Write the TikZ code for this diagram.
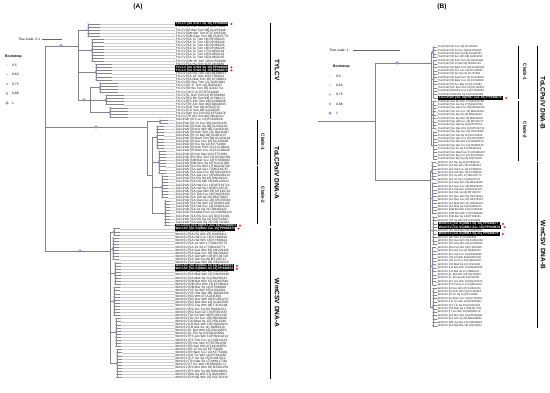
\documentclass[tikz,border=0pt]{standalone}
\usepackage{fontspec}
\setmainfont{Liberation Sans}
\usetikzlibrary{shapes.geometric}
\definecolor{Ink}{HTML}{1A1A1A}
\definecolor{Branch}{HTML}{858585}
\definecolor{Leader}{HTML}{CDCDCD}
\definecolor{BootFill}{HTML}{A3A6D9}
\definecolor{BootEdge}{HTML}{7A7EBF}
\definecolor{Star}{HTML}{E0262B}
\tikzset{
  branch/.style={draw=Branch,line width=0.4pt},
  leader/.style={draw=Leader,line width=0.2pt},
  bootbig/.style={draw=BootEdge,fill=BootFill,line width=0.2pt},
  bootsmall/.style={draw=BootEdge,fill=BootFill!70,line width=0.15pt},
  tiplab/.style={anchor=west,inner sep=0.2pt,text=Ink,font=\fontsize{3.2}{3}\selectfont},
  tiplabB/.style={tiplab,font=\fontsize{2.7}{3}\selectfont},
  tiphl/.style={anchor=west,inner sep=0.45pt,fill=black,text=white,font=\fontsize{3.2}{3}\selectfont\bfseries},
  tiphlB/.style={tiphl,inner xsep=1.2pt,font=\fontsize{3.3}{3}\selectfont\bfseries},
  redmark/.style={star,star points=5,star point ratio=2.2,fill=Star,inner sep=0pt,minimum size=2.8pt},
  groupbar/.style={draw=black,line width=1pt},
  cladebar/.style={draw=black,line width=0.6pt},
  grouplab/.style={rotate=-90,font=\fontsize{6.5}{7}\selectfont\bfseries},
  cladelab/.style={rotate=-90,font=\fontsize{4.5}{5}\selectfont\bfseries},
  legtxt/.style={anchor=west,inner sep=0pt,font=\fontsize{3.3}{4}\selectfont},
  paneltitle/.style={font=\fontsize{6.5}{7}\selectfont\bfseries}
}
% tree helpers, rows at y = \yo + \ys*k
\newcommand\spine[3]{\draw[branch] (#1,{\yo+\ys*#2}) -- (#1,{\yo+\ys*#3});}
\newcommand\hbranch[3]{\draw[branch] (#1,{\yo+\ys*#3}) -- (#2,{\yo+\ys*#3});}
\newcommand\bootdot[2]{\filldraw[bootbig] (#1,{\yo+\ys*#2}) circle (1.5pt);}
\newcommand\tipgroup[5]{% first k, last k, spine x, node x, tip x
  \pgfmathsetmacro\ga{\yo+\ys*#1}
  \pgfmathsetmacro\gb{\yo+\ys*#2}
  \pgfmathsetmacro\gm{(\ga+\gb)/2}
  \draw[branch] (#3,\gm) -- (#4,\gm);
  \draw[branch] (#4,\ga) -- (#4,\gb);
  \foreach \k in {#1,...,#2}{
    \pgfmathsetmacro\gk{\yo+\ys*\k}
    \draw[branch] (#4,\gk) -- (#5,\gk);
    \draw[leader] (#5,\gk) -- (\lx,\gk);
    \filldraw[bootsmall] (#4,\gk) circle (0.6pt);
  }
  \filldraw[bootbig] (#4,\gm) circle (1.1pt);
}
\newcommand\tiplabels[6]{% name, virus, first k, style, highlight style, list
  \foreach \tg/\ac/\hl [count=\k from #3] in {#6}{
    \pgfmathsetmacro\ty{\yo+\ys*\k}
    \ifnum\hl=1
      \node[#5] (#1\k) at (\lx,\ty) {#2 [\tg] \ac};
      \node[redmark] (#1\k-m) at ([xshift=3pt]#1\k.east) {};
    \else
      \node[#4] (#1\k) at (\lx,\ty) {#2 [\tg] \ac};
    \fi
  }
}

\begin{document}
\begin{tikzpicture}[x=1pt,y=-1pt]
  \useasboundingbox (0,0) rectangle (550,392);

  %% (A) DNA-A
  \node[paneltitle] (titleA) at (138,7) {(A)};
  \node[legtxt,anchor=east] (scaleA) at (40.5,39) {Tree scale: 0.1};
  \draw[branch,draw=black!60] (scaleA.east) ++(1.5pt,0) coordinate (sA1) -- ++(20,0) coordinate (sA2);
  \node[legtxt,font=\fontsize{3.5}{4}\selectfont\bfseries] (bootA) at (5,57) {Bootstrap};
  \foreach \v/\r/\c [count=\i] in {0.5/0.6/35,0.63/0.8/50,0.75/1.0/65,0.88/1.2/80,1/1.4/100}{
    \filldraw[draw=BootEdge!\c,fill=BootFill!\c,line width=0.2pt] (7,{55.5+9.5*\i}) circle (\r pt);
    \node[legtxt] (legA\i) at (12,{55.5+9.5*\i}) {\v};
  }

  \def\yo{24}\def\ys{3.1}\def\lx{175}
  % root
  \spine{45}{7}{73.2}
  \hbranch{45}{78}{7}
  \hbranch{45}{147}{33.2}
  \hbranch{45}{110}{73.2}
  \bootdot{61}{7}
  \bootdot{96}{33.2}
  \bootdot{80}{73.2}
  % TYLCV
  \tipgroup{0}{4}{78}{88}{100}
  \tipgroup{5}{12}{78}{92}{104}
  \tipgroup{13}{18}{78}{96}{112}
  \tipgroup{19}{22}{90}{100}{118}
  \tipgroup{23}{26}{90}{106}{124}
  \tipgroup{27}{30}{90}{110}{128}
  \spine{90}{20.5}{28.5}
  \hbranch{78}{90}{24.5}
  \bootdot{84}{24.5}
  \spine{78}{2}{24.5}
  % ToLCPalV
  \tipgroup{31}{32}{147}{160}{168}
  \tipgroup{33}{40}{152}{157}{164}
  \tipgroup{41}{48}{152}{159}{166}
  \tipgroup{49}{56}{152}{162}{168}
  \tipgroup{57}{65}{152}{165}{170}
  \spine{152}{36.5}{61}
  \hbranch{147}{152}{48.75}
  \spine{147}{31.5}{48.75}
  % WmCSV
  \tipgroup{66}{68}{110}{114}{120}
  \tipgroup{69}{76}{110}{113}{119}
  \tipgroup{77}{84}{110}{115}{121}
  \tipgroup{85}{94}{110}{114}{120}
  \tipgroup{95}{104}{110}{116}{121}
  \tipgroup{105}{114}{110}{117}{122}
  \spine{110}{67}{109.5}

  \tiplabels{ty}{TYLCV}{0}{tiplab}{tiphl}{SA SH17 Sq 19/PP948868/1,IR Her Tom 07/GU076442/0,IR Bsh Tom 08/GU076448/0,OM Bar Tom 07/FJ956700/0,OM Kam Tom 08/EU635776/0,SA Tu Tom 18/OP356223/0,SA Tu Tom 18/OP356224/0,SA Tu Tom 18/OP356225/0,SA Tu Tom 18/OP356226/0,SA Tu Tom 17/KX856124/0,SA Tu Tom 16/KX856132/0,SA Tu Tom 16/KX856135/0,OM Sh Tom 10/KU518990/0,SA Ha Tom 11/KJ416480/0,SA SH16 Sq 19/PP948869/1,SA SH20 Sq 19/PP948870/1,SA Riy Tom 19/OQ349231/0,SA Jiz Tom 15/KT306521/0,SA Mak Tom 16/KY399611/0,IR Boo Tom 13/JQ354991/0,IR Tr Tom 10/JQ928347/0,IR Kis Tom 05/AJ132711/0,JO Cuc 07/EF433426/0,IL Reh Tom 01/EF054894/0,EG Bh Tom 98/AY594174/0,ES Alm Tom 99/AJ489258/0,TR Ant Tom 06/DQ644565/0,DO Tom 94/AF024715/0,CU Tom 96/AJ223505/0,MX Sin Tom 05/EF523478/0,JP Shi Tom 96/AB110217/0}
  \tiplabels{pa}{ToLCPalV}{31}{tiplab}{tiphl}{IR Cuc 13/KC106639/0,IR Jir Cuc 08/GU451135/0,IR Kah Sq 09/GU451143/0,IR Ker Wm 08/GU451140/0,IR Kah Tom 10/JQ434497/0,IR Jir Mel 08/GU451137/0,IR Bam Tom 09/GU451144/0,IR Ker Cuc 10/KC106638/0,IR Sis Sq 12/KF751680/0,IR Kah Pum 11/KC106641/0,IR Bam Cuc 11/KC106640/0,IR Ker Mel 12/KF751681/0,PK Kha Tom 14/KP192350/0,OM Bar Cuc 14/KT099183/0,OM Sha Sq 15/KX231388/0,SA Ris Wm 17/MG230766/0,SA Jaz Sq 17/MG230767/0,SA Gas Cuc 18/MK226413/0,SA Jaz Cuc 18/MK226414/0,SA Riy Sq 18/MN149121/0,SA Riy Mel 18/MN149122/0,SA Haf Cuc 19/MT136714/0,SA Haf Sq 19/MT136715/0,SA Qas Wm 19/MT136716/0,SA Tab Cuc 20/OK078302/0,SA Tab Sq 20/OK078303/0,SA Qas Cuc 20/OK078304/0,SA Hai Wm 21/ON456120/0,SA Hai Cuc 21/ON456121/0,SA Jiz Sq 21/ON456122/0,SA Mak Pum 21/ON456123/0,SA Riy Cuc 22/OQ732301/0,SA Riy Sq 22/OQ732302/0,SA Qas Sq 22/OQ732303/0,SA SQPA7 Zuc 19/PP948871/1}
  \tiplabels{wm}{WmCSV}{66}{tiplab}{tiphl}{SA SQWA2 Zuc 19/PP948872/1,SA Riy Sq 15/KX856110/0,SA Riy Wm 15/KX856111/0,SA Haf Cuc 16/KY399620/0,SA Haf Wm 16/KY399621/0,SA Jiz Wm 17/MG230770/0,SA Jiz Sq 17/MG230771/0,SA Gas Wm 18/MK226420/0,SA Gas Cuc 18/MK226421/0,SA Tab Wm 19/MT136720/0,SA Tab Sq 19/MT136721/0,SA Qas Wm 20/OK078310/0,SA SQWA1 Sq 19/PP948873/1,SA SQWA3 Sq 21/PP948874/1,SA Qas Cuc 20/OK078311/0,SA Mak Wm 21/ON456130/0,SA Mak Sq 21/ON456131/0,OM Bat Wm 12/KC462548/0,OM Sha Wm 13/KF699321/0,OM Bar Sq 14/KT099190/0,YE Sa Wm 05/AJ012081/0,YE Hod Wm 06/AM502330/0,SD Wm 97/AJ245650/0,SD Gez Wm 08/EU561237/0,SD Kha Wm 10/KC462550/0,EG Fay Wm 09/FJ516294/0,EG Giz Sq 10/HQ692151/0,EG Kaf Cuc 13/KF954567/0,JO Gh Wm 08/EU561236/0,JO Jer Cuc 10/HQ640426/0,JO Mad Sq 12/JX912280/0,LB Bek Wm 10/HQ828232/0,LB Akk Sq 11/JN882310/0,IL Beit Wm 02/DQ120055/0,IL Ein Sq 03/DQ120056/0,PS Jen Wm 10/HQ410214/0,PS Tub Cuc 11/JQ814223/0,IR Ker Wm 07/EU561238/0,IR Kah Wm 11/KC462551/0,IR Jir Sq 12/KF751690/0,IR Bam Cuc 13/KF751691/0,LB Tyr Wm 14/KP641665/0,CY Lar Sq 15/KU097022/0,TN Nab Sq 17/MH017760/0,IT Sic Wm 18/MN585171/0,ES Mur Wm 19/MT081259/0,ES Alm Sq 20/MW149831/0,MA Ag Wm 21/OM149817/0,SA Nej Wm 22/OQ732310/0}

  \draw[cladebar] (257,119.5) -- (257,164.5);
  \draw[cladebar] (257,166) -- (257,223.5);
  \node[cladelab] (cA1) at (263,142) {Clade-1};
  \node[cladelab] (cA2) at (263,195) {Clade-2};
  \draw[groupbar] (270,22.5) -- (270,118.5);
  \draw[groupbar] (270,119.5) -- (270,226.3);
  \draw[groupbar] (270,228) -- (270,378.5);
  \node[grouplab] (gTY) at (277,70) {TYLCV};
  \node[grouplab] (gPA) at (277,173) {ToLCPalV DNA-A};
  \node[grouplab] (gWA) at (277,303) {WmCSV DNA-A};

  %% (B) DNA-B
  \node[paneltitle] (titleB) at (442,7) {(B)};
  \node[legtxt,anchor=east] (scaleB) at (349,50) {Tree scale: 1};
  \draw[branch,draw=black!60] (scaleB.east) ++(4,0) coordinate (sB1) -- ++(47,0) coordinate (sB2);
  \node[legtxt,font=\fontsize{3.5}{4}\selectfont\bfseries] (bootB) at (333,67) {Bootstrap};
  \foreach \v/\r/\c [count=\i] in {0.5/0.6/35,0.63/0.8/50,0.75/1.0/65,0.88/1.2/80,1/1.4/100}{
    \filldraw[draw=BootEdge!\c,fill=BootFill!\c,line width=0.2pt] (330,{66.7+9.3*\i}) circle (\r pt);
    \node[legtxt] (legB\i) at (336,{66.7+9.3*\i}) {\v};
  }

  \def\yo{47}\def\ys{3.4}\def\lx{437.5}
  % root
  \hbranch{318}{375}{21.9}
  \spine{375}{4.7}{39.1}
  \hbranch{375}{431}{4.7}
  \hbranch{375}{430}{39.1}
  \bootdot{397}{4.7}
  % ToLCPalV
  \tipgroup{0}{3}{431}{433}{436}
  \tipgroup{4}{15}{431}{433.5}{436.5}
  \tipgroup{16}{24}{431}{433}{436}
  \tipgroup{25}{33}{431}{433.5}{436.5}
  \spine{431}{1.5}{29}
  % WmCSV
  \tipgroup{34}{39}{430}{432}{436}
  \tipgroup{40}{49}{430}{432.5}{436.5}
  \tipgroup{50}{58}{430}{433}{436.5}
  \tipgroup{59}{70}{430}{432.5}{436}
  \tipgroup{71}{82}{430}{433}{436.5}
  \spine{430}{36.5}{76.5}

  \tiplabels{pb}{ToLCPalV}{0}{tiplabB}{tiphlB}{IR Cuc 13/KC106642/0,IR Jir Cuc 08/GU451150/0,IR Kah Sq 09/GU451151/0,IR Ker Wm 08/GU451152/0,IR Kah Tom 10/JQ434498/0,IR Jir Mel 08/GU451153/0,IR Bam Tom 09/GU451154/0,IR Ker Cuc 10/KC106643/0,IR Sis Sq 12/KF751682/0,IR Kah Pum 11/KC106644/0,IR Bam Cuc 11/KC106645/0,IR Ker Mel 12/KF751683/0,PK Kha Tom 14/KP192351/0,OM Bar Cuc 14/KT099184/0,OM Sha Sq 15/KX231389/0,SA SQPB7 Zuc 19/PP948876/1,SA Ris Wm 17/MG230768/0,SA Jaz Sq 17/MG230769/0,SA Gas Cuc 18/MK226415/0,SA Jaz Cuc 18/MK226416/0,SA Riy Sq 18/MN149123/0,SA Riy Mel 18/MN149124/0,SA Haf Cuc 19/MT136717/0,SA Haf Sq 19/MT136718/0,SA Qas Wm 19/MT136719/0,SA Tab Cuc 20/OK078305/0,SA Tab Sq 20/OK078306/0,SA Qas Cuc 20/OK078307/0,SA Hai Wm 21/ON456124/0,SA Hai Cuc 21/ON456125/0,SA Jiz Sq 21/ON456126/0,SA Mak Pum 21/ON456127/0,SA Riy Cuc 22/OQ732304/0,SA Riy Sq 22/OQ732305/0}
  \tiplabels{wb}{WmCSV}{34}{tiplabB}{tiphlB}{SA Riy Sq 15/KX856112/0,SA Riy Wm 15/KX856113/0,SA Haf Cuc 16/KY399622/0,SA Haf Wm 16/KY399623/0,SA Jiz Wm 17/MG230772/0,SA Jiz Sq 17/MG230773/0,SA Gas Wm 18/MK226422/0,SA Gas Cuc 18/MK226423/0,SA Tab Wm 19/MT136722/0,SA Tab Sq 19/MT136723/0,SA Qas Wm 20/OK078312/0,SA Qas Cuc 20/OK078313/0,SA Mak Wm 21/ON456132/0,SA Mak Sq 21/ON456133/0,OM Bat Wm 12/KC462549/0,OM Sha Wm 13/KF699322/0,OM Bar Sq 14/KT099191/0,YE Sa Wm 05/AJ012082/0,SA SQWB1 Sq 19/PP948877/1,SA SQWB2 Zuc 19/PP948878/1,YE Hod Wm 06/AM502331/0,SA SQWB3 Sq 21/PP948879/1,SD Wm 97/AJ245652/0,SD Gez Wm 08/EU561239/0,SD Kha Wm 10/KC462552/0,EG Fay Wm 09/FJ516295/0,EG Giz Sq 10/HQ692152/0,EG Kaf Cuc 13/KF954568/0,JO Gh Wm 08/EU561240/0,JO Jer Cuc 10/HQ640427/0,JO Mad Sq 12/JX912281/0,LB Bek Wm 10/HQ828233/0,LB Akk Sq 11/JN882311/0,IL Beit Wm 02/DQ120057/0,IL Ein Sq 03/DQ120058/0,PS Jen Wm 10/HQ410215/0,PS Tub Cuc 11/JQ814224/0,IR Ker Wm 07/EU561241/0,IR Kah Wm 11/KC462553/0,IR Jir Sq 12/KF751692/0,IR Bam Cuc 13/KF751693/0,LB Tyr Wm 14/KP641666/0,CY Lar Sq 15/KU097023/0,TN Nab Sq 17/MH017761/0,IT Sic Wm 18/MN585172/0,ES Mur Wm 19/MT081260/0,ES Alm Sq 20/MW149832/0,MA Ag Wm 21/OM149818/0,SA Nej Wm 22/OQ732311/0}

  \draw[cladebar] (518,45.5) -- (518,98.8);
  \draw[cladebar] (518,101) -- (518,160.5);
  \node[cladelab] (cB1) at (525,72) {Clade-1};
  \node[cladelab] (cB2) at (525,130) {Clade-2};
  \draw[groupbar] (537,45.5) -- (537,160.5);
  \draw[groupbar] (537,162) -- (537,327.5);
  \node[grouplab] (gPB) at (543,103) {ToLCPalV DNA-B};
  \node[grouplab] (gWB) at (543,245) {WmCSV DNA-B};
\end{tikzpicture}
\end{document}
